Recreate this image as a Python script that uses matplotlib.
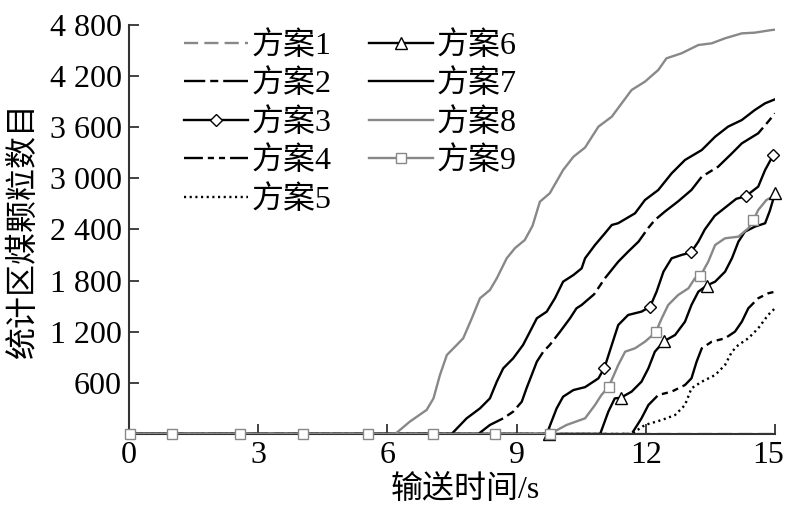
import numpy as np
import matplotlib
matplotlib.use("Agg")
import matplotlib.pyplot as plt
import matplotlib.transforms as mtransforms
from matplotlib.ticker import FuncFormatter
from matplotlib.lines import Line2D

plt.rcParams['font.family'] = ['Liberation Serif', 'Noto Sans CJK SC']
plt.rcParams['lines.solid_joinstyle'] = 'round'
plt.rcParams['lines.dash_joinstyle'] = 'round'

# ---------------- data ----------------
labels = ['方案1', '方案2', '方案3', '方案4', '方案5', '方案6', '方案7', '方案8', '方案9']

t1 = [0, 15]
y1 = [0, 0]

t2 = [0, 8.11, 8.38, 8.69, 8.92, 9.12, 9.23, 9.35, 9.47, 9.62, 9.77, 10.01, 10.24, 10.39, 10.51,
      10.8, 11.05, 11.36, 11.59, 11.83, 12.06, 12.21, 12.44, 12.75, 13.06, 13.3, 13.68, 14.0,
      14.23, 14.61, 14.84, 15.0]
y2 = [0, 0, 106, 184, 262, 379, 536, 692, 849, 966, 1045, 1201, 1358, 1475, 1514,
      1640, 1827, 2022, 2140, 2257, 2420, 2511, 2609, 2730, 2864, 3020, 3137, 3294,
      3411, 3529, 3665, 3763]

t3 = [0, 9.7, 9.81, 9.93, 10.08, 10.32, 10.59, 10.9, 11.04, 11.21, 11.36, 11.59, 11.9, 12.1,
      12.25, 12.41, 12.6, 12.83, 13.05, 13.22, 13.37, 13.6, 13.9, 14.1, 14.32, 14.61, 14.77, 14.96]
y3 = [0, 0, 145, 301, 438, 516, 550, 653, 778, 1045, 1279, 1397, 1436, 1494,
      1670, 1905, 2062, 2101, 2132, 2257, 2400, 2560, 2680, 2760, 2790, 2903, 3098, 3274]

t4 = [0, 11.67, 11.9, 12.06, 12.29, 12.6, 12.91, 13.06, 13.18, 13.3, 13.53, 13.84, 14.07,
      14.23, 14.38, 14.61, 14.84, 15.0]
y4 = [0, 0, 184, 340, 458, 497, 575, 653, 849, 1006, 1083, 1123, 1201,
      1318, 1475, 1593, 1651, 1670]

t5 = [0, 11.67, 11.98, 12.37, 12.68, 12.91, 13.06, 13.3, 13.61, 13.84, 14.0, 14.15, 14.38,
      14.61, 14.84, 15.0]
y5 = [0, 0, 106, 164, 223, 340, 536, 614, 692, 810, 966, 1045, 1123,
      1240, 1397, 1475]

t6 = [0, 10.94, 11.13, 11.28, 11.42, 11.67, 11.9, 12.06, 12.21, 12.43, 12.68, 12.91, 13.06,
      13.22, 13.41, 13.61, 13.84, 14.0, 14.15, 14.3, 14.53, 14.77, 14.88, 15.0]
y6 = [0, 0, 262, 418, 426, 497, 614, 771, 966, 1091, 1162, 1318, 1514,
      1670, 1741, 1788, 1905, 2062, 2257, 2374, 2433, 2473, 2620, 2825]

t7 = [0, 7.49, 7.84, 8.15, 8.38, 8.54, 8.69, 8.92, 9.15, 9.31, 9.47, 9.7, 9.89, 10.08, 10.32,
      10.51, 10.59, 10.82, 11.05, 11.21, 11.36, 11.75, 11.98, 12.29, 12.6, 12.91, 13.3, 13.61,
      13.91, 14.23, 14.53, 14.77, 15.0]
y7 = [0, 0, 184, 301, 418, 614, 771, 888, 1045, 1201, 1358, 1436, 1593, 1788, 1866,
      1944, 2062, 2218, 2355, 2453, 2474, 2590, 2746, 2864, 3059, 3216, 3333, 3489,
      3607, 3685, 3802, 3881, 3928]

t8 = [0, 6.18, 6.52, 6.91, 7.07, 7.22, 7.38, 7.61, 7.76, 7.96, 8.15, 8.38, 8.54, 8.77, 8.96,
      9.19, 9.37, 9.54, 9.77, 10.08, 10.32, 10.59, 10.9, 11.21, 11.44, 11.67, 11.98, 12.29,
      12.48, 12.83, 13.22, 13.53, 13.84, 14.23, 14.53, 14.92, 15.0]
y8 = [0, 0, 145, 282, 418, 692, 927, 1045, 1123, 1358, 1593, 1690, 1827, 2062, 2180,
      2277, 2443, 2726, 2825, 3098, 3254, 3362, 3607, 3724, 3881, 4037, 4135, 4272,
      4409, 4468, 4565, 4585, 4644, 4702, 4710, 4741, 4745]

t9 = [0, 9.77, 10.16, 10.59, 10.82, 10.97, 11.14, 11.36, 11.52, 11.75, 11.98, 12.23, 12.37,
      12.52, 12.75, 12.99, 13.14, 13.27, 13.45, 13.61, 13.84, 14.15, 14.38, 14.5, 14.61, 14.8, 15.0]
y9 = [0, 0, 106, 184, 340, 458, 555, 810, 966, 1006, 1083, 1193, 1358,
      1514, 1631, 1710, 1827, 1858, 2022, 2218, 2297, 2316, 2414, 2511, 2629, 2746, 2800]

# marker positions (time values)
m3 = [11.04, 12.1, 13.05, 14.32, 14.96]
m6 = [9.76, 11.42, 12.43, 13.41, 15.0]
m9 = [0.02, 1.0, 2.58, 4.04, 5.55, 7.07, 8.5, 9.78, 11.14, 12.23, 13.27, 14.5]

xticks = [0, 3, 6, 9, 12, 15]
yticks = [600, 1200, 1800, 2400, 3000, 3600, 4200, 4800]

# ---------------- style ----------------
BLACK = '#000000'
GRAY = '#888888'
LW = 1.7
FS = 23

ls1 = (0, (6.0, 2.6))
ls2 = (0, (26, 2.1, 3.4, 2.1))
ls2_leg = (17, (26, 2.1, 3.4, 2.1))
ls4 = (0, (19, 2.1, 2.6, 2.1, 2.6, 2.1))
ls4_leg = (11, (19, 2.1, 2.6, 2.1, 2.6, 2.1))
ls5 = (0, (0.9, 1.5))

fig = plt.figure(figsize=(7.85, 5.07), dpi=100)
ax = fig.add_axes([129/785, 1-434/507, 646/785, 409/507])


def plot_series(t, y, color, ls='-', marker=None, mx=None, ms=7, z=2):
    ax.plot(t, y, color=color, lw=LW, ls=ls, zorder=z)
    if marker is not None:
        mxv = np.array(mx)
        myv = np.interp(mxv, t, y)
        ax.plot(mxv, myv, ls='none', marker=marker, ms=ms, mfc='white', mec=color,
                mew=1.0, zorder=z + 5, clip_on=False)


plot_series(t1, y1, GRAY, ls=ls1, z=1)
plot_series(t2, y2, BLACK, ls=ls2, z=2)
plot_series(t3, y3, BLACK, marker='D', mx=m3, ms=6, z=2)
plot_series(t4, y4, BLACK, ls=ls4, z=2)
plot_series(t5, y5, BLACK, ls=ls5, z=2)
plot_series(t6, y6, BLACK, marker='^', mx=m6, ms=8, z=2)
plot_series(t7, y7, BLACK, z=2)
plot_series(t8, y8, GRAY, z=3)
plot_series(t9, y9, GRAY, marker='s', mx=m9, ms=7, z=3)

handles = [
    Line2D([], [], color=GRAY, lw=LW, ls=ls1),
    Line2D([], [], color=BLACK, lw=LW, ls=ls2_leg),
    Line2D([], [], color=BLACK, lw=LW, marker='D', ms=6, mfc='white', mec=BLACK, mew=1.0),
    Line2D([], [], color=BLACK, lw=LW, ls=ls4_leg),
    Line2D([], [], color=BLACK, lw=LW, ls=ls5),
    Line2D([], [], color=BLACK, lw=LW, marker='^', ms=8, mfc='white', mec=BLACK, mew=1.0),
    Line2D([], [], color=BLACK, lw=LW),
    Line2D([], [], color=GRAY, lw=LW),
    Line2D([], [], color=GRAY, lw=LW, marker='s', ms=7, mfc='white', mec=GRAY, mew=1.0),
]
leg = fig.legend(handles, labels, ncol=2, loc='upper left',
                 bbox_to_anchor=(184/785, 1-31/507), frameon=False,
                 fontsize=FS, handlelength=2.0, handletextpad=0.1,
                 columnspacing=1.2, labelspacing=0.27, borderpad=0, borderaxespad=0,
                 numpoints=1)

ax.set_xlim(0, 15)
ax.set_ylim(0, 4800)
ax.set_xticks(xticks)
ax.set_yticks(yticks)
ax.xaxis.set_major_formatter(FuncFormatter(lambda v, p: f"{int(v)}"))
ax.yaxis.set_major_formatter(FuncFormatter(lambda v, p: f"{int(v):,}".replace(',', ' ')))
ax.tick_params(direction='in', length=7, width=1.3, labelsize=FS, pad=5, color='#333333')
for s in ['top', 'right']:
    ax.spines[s].set_visible(False)
for s in ['left', 'bottom']:
    ax.spines[s].set_color('#333333')
    ax.spines[s].set_linewidth(1.5)

ax.set_xlabel('输送时间/s', fontsize=FS, labelpad=4, x=0.52)
ax.set_ylabel('统计区煤颗粒数目', fontsize=FS, labelpad=8)

# keep the last x tick label inside the canvas
fig.canvas.draw()
last = ax.get_xticklabels()[-1]
last.set_transform(last.get_transform() + mtransforms.ScaledTranslation(-7/100, 0, fig.dpi_scale_trans))

fig.savefig('out.png', dpi=100)
